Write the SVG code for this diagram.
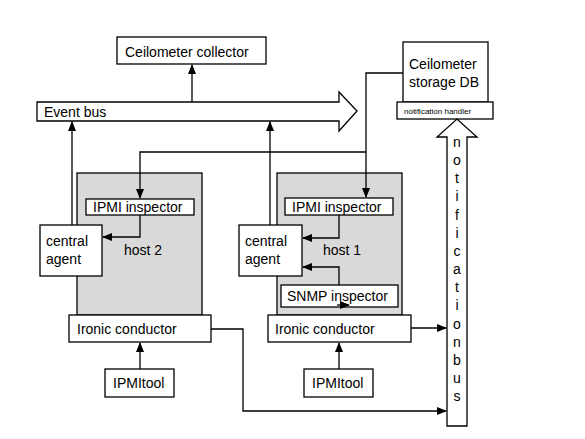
<svg xmlns="http://www.w3.org/2000/svg" width="585" height="439" viewBox="0 0 585 439">
<style>
.box{fill:#fff;stroke:#000;stroke-width:1.3}
.host{fill:#d9d9d9;stroke:#000;stroke-width:1.3}
.t{font-family:"Liberation Sans",Arial,sans-serif;font-size:14px;fill:#000}
.s{font-family:"Liberation Sans",Arial,sans-serif;font-size:8px;fill:#000}
.c{fill:none;stroke:#000;stroke-width:1.3}
</style>
<defs>
<marker id="ah" markerWidth="10" markerHeight="8" refX="9" refY="4" orient="auto" markerUnits="userSpaceOnUse">
<path d="M0,0 L10,4 L0,8 Z" fill="#000"/>
</marker>
</defs>
<rect width="585" height="439" fill="#fff"/>

<g id="host2">
<rect class="host" x="77" y="173" width="125" height="142"/>
<text class="t" x="124" y="255">host 2</text>
</g>
<g id="host1">
<rect class="host" x="277" y="173" width="125" height="142"/>
<text class="t" x="323" y="255">host 1</text>
</g>

<g id="collector">
<rect class="box" x="117" y="37" width="149" height="27"/>
<text class="t" x="125" y="57">Ceilometer collector</text>
</g>

<g id="eventbus">
<path class="box" d="M37,102 L339,102 L339,92 L357,111 L339,131 L339,121 L37,121 Z"/>
<text class="t" x="44" y="117">Event bus</text>
</g>

<g id="storage">
<rect class="box" x="403" y="42" width="85" height="60"/>
<text class="t" x="409" y="69">Ceilometer</text>
<text class="t" x="409" y="87">storage DB</text>
</g>

<g id="handler">
<rect class="box" x="397" y="102" width="96" height="17"/>
<text class="s" x="404" y="114">notification handler</text>
</g>

<g id="notifbus">
<path class="box" d="M447,426 L447,137 L437,137 L457,119 L477,137 L467,137 L467,426 Z"/>
<g class="t" text-anchor="middle">
<text x="457" y="147">n</text>
<text x="457" y="165">o</text>
<text x="457" y="183">t</text>
<text x="457" y="201">i</text>
<text x="457" y="220">f</text>
<text x="457" y="238">i</text>
<text x="457" y="256">c</text>
<text x="457" y="274">a</text>
<text x="457" y="292">t</text>
<text x="457" y="310">i</text>
<text x="457" y="329">o</text>
<text x="457" y="347">n</text>
<text x="457" y="365">b</text>
<text x="457" y="383">u</text>
<text x="457" y="401">s</text>
</g>
</g>

<g id="ipmi2">
<rect class="box" x="86" y="199" width="108" height="16"/>
<text class="t" x="93" y="212">IPMI inspector</text>
</g>
<g id="agent2">
<rect class="box" x="40" y="225" width="62" height="51"/>
<text class="t" x="46" y="246">central</text>
<text class="t" x="46" y="264">agent</text>
</g>
<g id="ironic2">
<rect class="box" x="69" y="315" width="142" height="27"/>
<text class="t" x="77" y="334">Ironic conductor</text>
</g>
<g id="ipmitool2">
<rect class="box" x="105" y="369" width="69" height="28"/>
<text class="t" x="113" y="388">IPMItool</text>
</g>

<g id="ipmi1">
<rect class="box" x="285" y="198" width="108" height="17"/>
<text class="t" x="292" y="212">IPMI inspector</text>
</g>
<g id="agent1">
<rect class="box" x="239" y="225" width="63" height="51"/>
<text class="t" x="245" y="246">central</text>
<text class="t" x="245" y="264">agent</text>
</g>
<g id="snmp1">
<rect class="box" x="281" y="285" width="117" height="22"/>
<text class="t" x="287" y="301">SNMP inspector</text>
</g>
<g id="ironic1">
<rect class="box" x="268" y="315" width="143" height="27"/>
<text class="t" x="275" y="334">Ironic conductor</text>
</g>
<g id="ipmitool1">
<rect class="box" x="304" y="369" width="69" height="28"/>
<text class="t" x="312" y="388">IPMItool</text>
</g>

<g id="connectors">
<line class="c" x1="192" y1="102" x2="192" y2="65" marker-end="url(#ah)"/>
<line class="c" x1="72" y1="225" x2="72" y2="122" marker-end="url(#ah)"/>
<line class="c" x1="270" y1="225" x2="270" y2="122" marker-end="url(#ah)"/>
<polyline class="c" points="403,73 366,73 366,197" marker-end="url(#ah)"/>
<polyline class="c" points="366,152 140,152 140,198" marker-end="url(#ah)"/>
<polyline class="c" points="140,215 140,237 103,237" marker-end="url(#ah)"/>
<polyline class="c" points="339,215 339,238 303,238" marker-end="url(#ah)"/>
<polyline class="c" points="339,285 339,267 303,267" marker-end="url(#ah)"/>
<line class="c" x1="337" y1="305" x2="349" y2="305" marker-end="url(#ah)"/>
<line class="c" x1="140" y1="369" x2="140" y2="343" marker-end="url(#ah)"/>
<line class="c" x1="339" y1="369" x2="339" y2="343" marker-end="url(#ah)"/>
<line class="c" x1="411" y1="328" x2="446" y2="328" marker-end="url(#ah)"/>
<polyline class="c" points="211,329 243,329 243,411 446,411" marker-end="url(#ah)"/>
</g>
</svg>
